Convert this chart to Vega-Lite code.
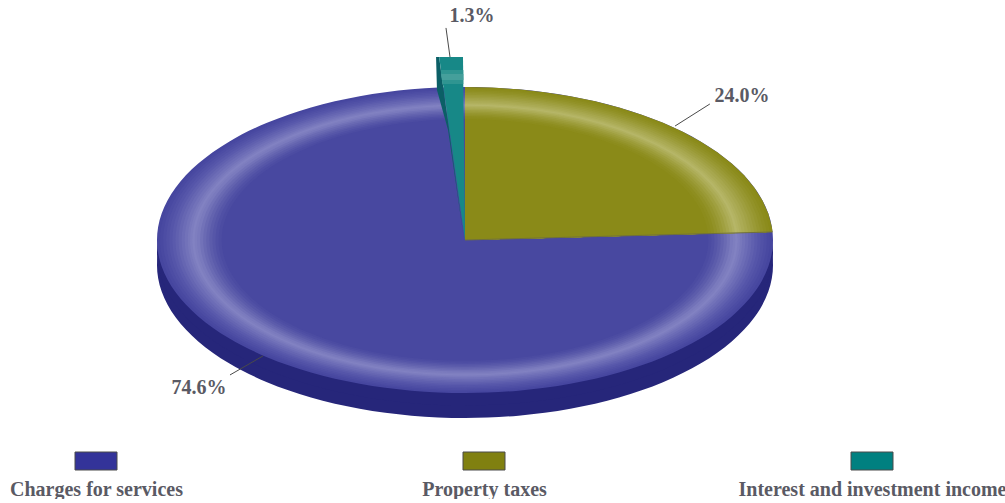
{"$schema":"https://vega.github.io/schema/vega-lite/v6.json","padding":0,"background":"#ffffff","spacing":9,"config":{"view":{"stroke":null}},
"datasets":{
"ring":[{"k":0,"u":0,"v":1},{"k":1,"u":0.1736,"v":0.9848},{"k":2,"u":0.342,"v":0.9397},{"k":3,"u":0.5,"v":0.866},{"k":4,"u":0.6428,"v":0.766},{"k":5,"u":0.766,"v":0.6428},{"k":6,"u":0.866,"v":0.5},{"k":7,"u":0.9397,"v":0.342},{"k":8,"u":0.9848,"v":0.1736},{"k":9,"u":1,"v":0},{"k":10,"u":0.9848,"v":-0.1736},{"k":11,"u":0.9397,"v":-0.342},{"k":12,"u":0.866,"v":-0.5},{"k":13,"u":0.766,"v":-0.6428},{"k":14,"u":0.6428,"v":-0.766},{"k":15,"u":0.5,"v":-0.866},{"k":16,"u":0.342,"v":-0.9397},{"k":17,"u":0.1736,"v":-0.9848},{"k":18,"u":0,"v":-1},{"k":19,"u":-0.1736,"v":-0.9848},{"k":20,"u":-0.342,"v":-0.9397},{"k":21,"u":-0.5,"v":-0.866},{"k":22,"u":-0.6428,"v":-0.766},{"k":23,"u":-0.766,"v":-0.6428},{"k":24,"u":-0.866,"v":-0.5},{"k":25,"u":-0.9397,"v":-0.342},{"k":26,"u":-0.9848,"v":-0.1736},{"k":27,"u":-1,"v":0},{"k":28,"u":-0.9848,"v":0.1736},{"k":29,"u":-0.9397,"v":0.342},{"k":30,"u":-0.866,"v":0.5},{"k":31,"u":-0.766,"v":0.6428},{"k":32,"u":-0.6428,"v":0.766},{"k":33,"u":-0.5,"v":0.866},{"k":34,"u":-0.342,"v":0.9397},{"k":35,"u":-0.1736,"v":0.9848}],
"sector":[{"k":0,"u":0,"v":0},{"k":1,"u":0,"v":1},{"k":2,"u":0.0872,"v":0.9962},{"k":3,"u":0.1736,"v":0.9848},{"k":4,"u":0.2588,"v":0.9659},{"k":5,"u":0.342,"v":0.9397},{"k":6,"u":0.4226,"v":0.9063},{"k":7,"u":0.5,"v":0.866},{"k":8,"u":0.5736,"v":0.8192},{"k":9,"u":0.6428,"v":0.766},{"k":10,"u":0.7071,"v":0.7071},{"k":11,"u":0.766,"v":0.6428},{"k":12,"u":0.8192,"v":0.5736},{"k":13,"u":0.866,"v":0.5},{"k":14,"u":0.9063,"v":0.4226},{"k":15,"u":0.9397,"v":0.342},{"k":16,"u":0.9659,"v":0.2588},{"k":17,"u":0.9848,"v":0.1736},{"k":18,"u":0.9962,"v":0.0872},{"k":19,"u":0.9986,"v":0.0523}],
"tealWall":[{"k":0,"u":-0.094,"v":1.196},{"k":1,"u":-0.084,"v":1.196},{"k":2,"u":-0.003,"v":0},{"k":3,"u":-0.055,"v":0.719},{"k":4,"u":-0.091,"v":0.98}],
"tealFace":[{"k":0,"u":-0.084,"v":1.196},{"k":1,"u":-0.0065,"v":1.196},{"k":2,"u":0,"v":0}],
"tealBand":[{"k":0,"u":-0.079,"v":1.111},{"k":1,"u":-0.0055,"v":1.111},{"k":2,"u":-0.0055,"v":1.02},{"k":3,"u":-0.073,"v":1.02}],
"tealGlow":[{"k":0,"u":-0.077,"v":1.085},{"k":1,"u":-0.0055,"v":1.085},{"k":2,"u":-0.0055,"v":1.046},{"k":3,"u":-0.075,"v":1.046}],
"seam":[{"a":0,"b":0,"a2":0.9986,"b2":0.0523}],
"slices":[{"slice":"Charges for services","share":74.6,"label":"74.6%","lu":-0.864,"lv":-0.967,"a":-0.656,"b":-0.758,"a2":-0.763,"b2":-0.882},{"slice":"Property taxes","share":24.0,"label":"24.0%","lu":0.899,"lv":0.941,"a":0.682,"b":0.745,"a2":0.795,"b2":0.889},{"slice":"Interest and investment income","share":1.3,"label":"1.3%","lu":0.0227,"lv":1.464,"a":-0.0487,"b":1.196,"a2":-0.0617,"b2":1.386}]
},
"vconcat":[
{"width":1005,"height":442,"resolve":{"scale":{"x":"independent","y":"independent"}},"layer":[
{"data":{"name":"ring"},"mark":{"type":"line","interpolate":"cardinal-closed","fill":"#26267a","strokeWidth":0},"encoding":{"x":{"field":"u","type":"quantitative","axis":null,"scale":{"domain":[-1.5097,1.7532],"nice":false,"zero":false}},"y":{"field":"v","type":"quantitative","axis":null,"scale":{"domain":[-1.1569,1.732],"nice":false,"zero":false}},"order":{"field":"k"}}},
{"data":{"name":"ring"},"mark":{"type":"line","interpolate":"cardinal-closed","fill":"#26267a","strokeWidth":0},"encoding":{"x":{"field":"u","type":"quantitative","axis":null,"scale":{"domain":[-1.5097,1.7532],"nice":false,"zero":false}},"y":{"field":"v","type":"quantitative","axis":null,"scale":{"domain":[-1.2386,1.6503],"nice":false,"zero":false}},"order":{"field":"k"}}},
{"data":{"name":"ring"},"mark":{"type":"line","interpolate":"cardinal-closed","fill":"#46469f","strokeWidth":0},"encoding":{"x":{"field":"u","type":"quantitative","axis":null,"scale":{"domain":[-1.5097,1.7532],"nice":false,"zero":false}},"y":{"field":"v","type":"quantitative","axis":null,"scale":{"domain":[-1.3203,1.5686],"nice":false,"zero":false}},"order":{"field":"k"}}},
{"data":{"name":"ring"},"mark":{"type":"line","interpolate":"cardinal-closed","fill":"#4949a1","strokeWidth":0},"encoding":{"x":{"field":"u","type":"quantitative","axis":null,"scale":{"domain":[-1.525,1.7709],"nice":false,"zero":false}},"y":{"field":"v","type":"quantitative","axis":null,"scale":{"domain":[-1.3336,1.5844],"nice":false,"zero":false}},"order":{"field":"k"}}},
{"data":{"name":"ring"},"mark":{"type":"line","interpolate":"cardinal-closed","fill":"#4d4da4","strokeWidth":0},"encoding":{"x":{"field":"u","type":"quantitative","axis":null,"scale":{"domain":[-1.5405,1.789],"nice":false,"zero":false}},"y":{"field":"v","type":"quantitative","axis":null,"scale":{"domain":[-1.3472,1.6006],"nice":false,"zero":false}},"order":{"field":"k"}}},
{"data":{"name":"ring"},"mark":{"type":"line","interpolate":"cardinal-closed","fill":"#5151a6","strokeWidth":0},"encoding":{"x":{"field":"u","type":"quantitative","axis":null,"scale":{"domain":[-1.5564,1.8074],"nice":false,"zero":false}},"y":{"field":"v","type":"quantitative","axis":null,"scale":{"domain":[-1.3611,1.6171],"nice":false,"zero":false}},"order":{"field":"k"}}},
{"data":{"name":"ring"},"mark":{"type":"line","interpolate":"cardinal-closed","fill":"#5555a9","strokeWidth":0},"encoding":{"x":{"field":"u","type":"quantitative","axis":null,"scale":{"domain":[-1.5726,1.8263],"nice":false,"zero":false}},"y":{"field":"v","type":"quantitative","axis":null,"scale":{"domain":[-1.3753,1.634],"nice":false,"zero":false}},"order":{"field":"k"}}},
{"data":{"name":"ring"},"mark":{"type":"line","interpolate":"cardinal-closed","fill":"#5a5aac","strokeWidth":0},"encoding":{"x":{"field":"u","type":"quantitative","axis":null,"scale":{"domain":[-1.5892,1.8455],"nice":false,"zero":false}},"y":{"field":"v","type":"quantitative","axis":null,"scale":{"domain":[-1.3898,1.6512],"nice":false,"zero":false}},"order":{"field":"k"}}},
{"data":{"name":"ring"},"mark":{"type":"line","interpolate":"cardinal-closed","fill":"#6060af","strokeWidth":0},"encoding":{"x":{"field":"u","type":"quantitative","axis":null,"scale":{"domain":[-1.6061,1.8651],"nice":false,"zero":false}},"y":{"field":"v","type":"quantitative","axis":null,"scale":{"domain":[-1.4046,1.6687],"nice":false,"zero":false}},"order":{"field":"k"}}},
{"data":{"name":"ring"},"mark":{"type":"line","interpolate":"cardinal-closed","fill":"#6666b2","strokeWidth":0},"encoding":{"x":{"field":"u","type":"quantitative","axis":null,"scale":{"domain":[-1.6233,1.8852],"nice":false,"zero":false}},"y":{"field":"v","type":"quantitative","axis":null,"scale":{"domain":[-1.4197,1.6867],"nice":false,"zero":false}},"order":{"field":"k"}}},
{"data":{"name":"ring"},"mark":{"type":"line","interpolate":"cardinal-closed","fill":"#6c6cb6","strokeWidth":0},"encoding":{"x":{"field":"u","type":"quantitative","axis":null,"scale":{"domain":[-1.641,1.9057],"nice":false,"zero":false}},"y":{"field":"v","type":"quantitative","axis":null,"scale":{"domain":[-1.4351,1.705],"nice":false,"zero":false}},"order":{"field":"k"}}},
{"data":{"name":"ring"},"mark":{"type":"line","interpolate":"cardinal-closed","fill":"#7272b9","strokeWidth":0},"encoding":{"x":{"field":"u","type":"quantitative","axis":null,"scale":{"domain":[-1.659,1.9266],"nice":false,"zero":false}},"y":{"field":"v","type":"quantitative","axis":null,"scale":{"domain":[-1.4509,1.7237],"nice":false,"zero":false}},"order":{"field":"k"}}},
{"data":{"name":"ring"},"mark":{"type":"line","interpolate":"cardinal-closed","fill":"#7878bc","strokeWidth":0},"encoding":{"x":{"field":"u","type":"quantitative","axis":null,"scale":{"domain":[-1.6774,1.948],"nice":false,"zero":false}},"y":{"field":"v","type":"quantitative","axis":null,"scale":{"domain":[-1.467,1.7429],"nice":false,"zero":false}},"order":{"field":"k"}}},
{"data":{"name":"ring"},"mark":{"type":"line","interpolate":"cardinal-closed","fill":"#7d7dbf","strokeWidth":0},"encoding":{"x":{"field":"u","type":"quantitative","axis":null,"scale":{"domain":[-1.6915,1.9644],"nice":false,"zero":false}},"y":{"field":"v","type":"quantitative","axis":null,"scale":{"domain":[-1.4793,1.7575],"nice":false,"zero":false}},"order":{"field":"k"}}},
{"data":{"name":"ring"},"mark":{"type":"line","interpolate":"cardinal-closed","fill":"#8282c2","strokeWidth":0},"encoding":{"x":{"field":"u","type":"quantitative","axis":null,"scale":{"domain":[-1.7059,1.981],"nice":false,"zero":false}},"y":{"field":"v","type":"quantitative","axis":null,"scale":{"domain":[-1.4919,1.7724],"nice":false,"zero":false}},"order":{"field":"k"}}},
{"data":{"name":"ring"},"mark":{"type":"line","interpolate":"cardinal-closed","fill":"#7e7ebf","strokeWidth":0},"encoding":{"x":{"field":"u","type":"quantitative","axis":null,"scale":{"domain":[-1.7205,1.9979],"nice":false,"zero":false}},"y":{"field":"v","type":"quantitative","axis":null,"scale":{"domain":[-1.5046,1.7876],"nice":false,"zero":false}},"order":{"field":"k"}}},
{"data":{"name":"ring"},"mark":{"type":"line","interpolate":"cardinal-closed","fill":"#7a7abd","strokeWidth":0},"encoding":{"x":{"field":"u","type":"quantitative","axis":null,"scale":{"domain":[-1.7353,2.0152],"nice":false,"zero":false}},"y":{"field":"v","type":"quantitative","axis":null,"scale":{"domain":[-1.5176,1.803],"nice":false,"zero":false}},"order":{"field":"k"}}},
{"data":{"name":"ring"},"mark":{"type":"line","interpolate":"cardinal-closed","fill":"#7272b8","strokeWidth":0},"encoding":{"x":{"field":"u","type":"quantitative","axis":null,"scale":{"domain":[-1.7555,2.0386],"nice":false,"zero":false}},"y":{"field":"v","type":"quantitative","axis":null,"scale":{"domain":[-1.5352,1.824],"nice":false,"zero":false}},"order":{"field":"k"}}},
{"data":{"name":"ring"},"mark":{"type":"line","interpolate":"cardinal-closed","fill":"#6a6ab3","strokeWidth":0},"encoding":{"x":{"field":"u","type":"quantitative","axis":null,"scale":{"domain":[-1.7761,2.0626],"nice":false,"zero":false}},"y":{"field":"v","type":"quantitative","axis":null,"scale":{"domain":[-1.5533,1.8454],"nice":false,"zero":false}},"order":{"field":"k"}}},
{"data":{"name":"ring"},"mark":{"type":"line","interpolate":"cardinal-closed","fill":"#6363af","strokeWidth":0},"encoding":{"x":{"field":"u","type":"quantitative","axis":null,"scale":{"domain":[-1.7973,2.0871],"nice":false,"zero":false}},"y":{"field":"v","type":"quantitative","axis":null,"scale":{"domain":[-1.5718,1.8674],"nice":false,"zero":false}},"order":{"field":"k"}}},
{"data":{"name":"ring"},"mark":{"type":"line","interpolate":"cardinal-closed","fill":"#5c5cab","strokeWidth":0},"encoding":{"x":{"field":"u","type":"quantitative","axis":null,"scale":{"domain":[-1.8189,2.1123],"nice":false,"zero":false}},"y":{"field":"v","type":"quantitative","axis":null,"scale":{"domain":[-1.5907,1.8899],"nice":false,"zero":false}},"order":{"field":"k"}}},
{"data":{"name":"ring"},"mark":{"type":"line","interpolate":"cardinal-closed","fill":"#5656a8","strokeWidth":0},"encoding":{"x":{"field":"u","type":"quantitative","axis":null,"scale":{"domain":[-1.8411,2.138],"nice":false,"zero":false}},"y":{"field":"v","type":"quantitative","axis":null,"scale":{"domain":[-1.6101,1.9129],"nice":false,"zero":false}},"order":{"field":"k"}}},
{"data":{"name":"ring"},"mark":{"type":"line","interpolate":"cardinal-closed","fill":"#5050a5","strokeWidth":0},"encoding":{"x":{"field":"u","type":"quantitative","axis":null,"scale":{"domain":[-1.8638,2.1644],"nice":false,"zero":false}},"y":{"field":"v","type":"quantitative","axis":null,"scale":{"domain":[-1.63,1.9365],"nice":false,"zero":false}},"order":{"field":"k"}}},
{"data":{"name":"ring"},"mark":{"type":"line","interpolate":"cardinal-closed","fill":"#4c4ca2","strokeWidth":0},"encoding":{"x":{"field":"u","type":"quantitative","axis":null,"scale":{"domain":[-1.8871,2.1915],"nice":false,"zero":false}},"y":{"field":"v","type":"quantitative","axis":null,"scale":{"domain":[-1.6504,1.9608],"nice":false,"zero":false}},"order":{"field":"k"}}},
{"data":{"name":"ring"},"mark":{"type":"line","interpolate":"cardinal-closed","fill":"#4848a0","strokeWidth":0},"encoding":{"x":{"field":"u","type":"quantitative","axis":null,"scale":{"domain":[-1.911,2.2192],"nice":false,"zero":false}},"y":{"field":"v","type":"quantitative","axis":null,"scale":{"domain":[-1.6713,1.9855],"nice":false,"zero":false}},"order":{"field":"k"}}},
{"data":{"name":"sector"},"mark":{"type":"line","interpolate":"linear-closed","fill":"#8a8a18","strokeWidth":0},"encoding":{"x":{"field":"u","type":"quantitative","axis":null,"scale":{"domain":[-1.5097,1.7532],"nice":false,"zero":false}},"y":{"field":"v","type":"quantitative","axis":null,"scale":{"domain":[-1.3203,1.5686],"nice":false,"zero":false}},"order":{"field":"k"}}},
{"data":{"name":"sector"},"mark":{"type":"line","interpolate":"linear-closed","fill":"#8c8c1d","strokeWidth":0},"encoding":{"x":{"field":"u","type":"quantitative","axis":null,"scale":{"domain":[-1.525,1.7709],"nice":false,"zero":false}},"y":{"field":"v","type":"quantitative","axis":null,"scale":{"domain":[-1.3336,1.5844],"nice":false,"zero":false}},"order":{"field":"k"}}},
{"data":{"name":"sector"},"mark":{"type":"line","interpolate":"linear-closed","fill":"#8f8f22","strokeWidth":0},"encoding":{"x":{"field":"u","type":"quantitative","axis":null,"scale":{"domain":[-1.5405,1.789],"nice":false,"zero":false}},"y":{"field":"v","type":"quantitative","axis":null,"scale":{"domain":[-1.3472,1.6006],"nice":false,"zero":false}},"order":{"field":"k"}}},
{"data":{"name":"sector"},"mark":{"type":"line","interpolate":"linear-closed","fill":"#929228","strokeWidth":0},"encoding":{"x":{"field":"u","type":"quantitative","axis":null,"scale":{"domain":[-1.5564,1.8074],"nice":false,"zero":false}},"y":{"field":"v","type":"quantitative","axis":null,"scale":{"domain":[-1.3611,1.6171],"nice":false,"zero":false}},"order":{"field":"k"}}},
{"data":{"name":"sector"},"mark":{"type":"line","interpolate":"linear-closed","fill":"#96962f","strokeWidth":0},"encoding":{"x":{"field":"u","type":"quantitative","axis":null,"scale":{"domain":[-1.5726,1.8263],"nice":false,"zero":false}},"y":{"field":"v","type":"quantitative","axis":null,"scale":{"domain":[-1.3753,1.634],"nice":false,"zero":false}},"order":{"field":"k"}}},
{"data":{"name":"sector"},"mark":{"type":"line","interpolate":"linear-closed","fill":"#9a9a36","strokeWidth":0},"encoding":{"x":{"field":"u","type":"quantitative","axis":null,"scale":{"domain":[-1.5892,1.8455],"nice":false,"zero":false}},"y":{"field":"v","type":"quantitative","axis":null,"scale":{"domain":[-1.3898,1.6512],"nice":false,"zero":false}},"order":{"field":"k"}}},
{"data":{"name":"sector"},"mark":{"type":"line","interpolate":"linear-closed","fill":"#9e9e3e","strokeWidth":0},"encoding":{"x":{"field":"u","type":"quantitative","axis":null,"scale":{"domain":[-1.6061,1.8651],"nice":false,"zero":false}},"y":{"field":"v","type":"quantitative","axis":null,"scale":{"domain":[-1.4046,1.6687],"nice":false,"zero":false}},"order":{"field":"k"}}},
{"data":{"name":"sector"},"mark":{"type":"line","interpolate":"linear-closed","fill":"#a2a246","strokeWidth":0},"encoding":{"x":{"field":"u","type":"quantitative","axis":null,"scale":{"domain":[-1.6233,1.8852],"nice":false,"zero":false}},"y":{"field":"v","type":"quantitative","axis":null,"scale":{"domain":[-1.4197,1.6867],"nice":false,"zero":false}},"order":{"field":"k"}}},
{"data":{"name":"sector"},"mark":{"type":"line","interpolate":"linear-closed","fill":"#a7a74e","strokeWidth":0},"encoding":{"x":{"field":"u","type":"quantitative","axis":null,"scale":{"domain":[-1.641,1.9057],"nice":false,"zero":false}},"y":{"field":"v","type":"quantitative","axis":null,"scale":{"domain":[-1.4351,1.705],"nice":false,"zero":false}},"order":{"field":"k"}}},
{"data":{"name":"sector"},"mark":{"type":"line","interpolate":"linear-closed","fill":"#abab55","strokeWidth":0},"encoding":{"x":{"field":"u","type":"quantitative","axis":null,"scale":{"domain":[-1.659,1.9266],"nice":false,"zero":false}},"y":{"field":"v","type":"quantitative","axis":null,"scale":{"domain":[-1.4509,1.7237],"nice":false,"zero":false}},"order":{"field":"k"}}},
{"data":{"name":"sector"},"mark":{"type":"line","interpolate":"linear-closed","fill":"#afaf5c","strokeWidth":0},"encoding":{"x":{"field":"u","type":"quantitative","axis":null,"scale":{"domain":[-1.6774,1.948],"nice":false,"zero":false}},"y":{"field":"v","type":"quantitative","axis":null,"scale":{"domain":[-1.467,1.7429],"nice":false,"zero":false}},"order":{"field":"k"}}},
{"data":{"name":"sector"},"mark":{"type":"line","interpolate":"linear-closed","fill":"#b3b362","strokeWidth":0},"encoding":{"x":{"field":"u","type":"quantitative","axis":null,"scale":{"domain":[-1.6915,1.9644],"nice":false,"zero":false}},"y":{"field":"v","type":"quantitative","axis":null,"scale":{"domain":[-1.4793,1.7575],"nice":false,"zero":false}},"order":{"field":"k"}}},
{"data":{"name":"sector"},"mark":{"type":"line","interpolate":"linear-closed","fill":"#b6b668","strokeWidth":0},"encoding":{"x":{"field":"u","type":"quantitative","axis":null,"scale":{"domain":[-1.7059,1.981],"nice":false,"zero":false}},"y":{"field":"v","type":"quantitative","axis":null,"scale":{"domain":[-1.4919,1.7724],"nice":false,"zero":false}},"order":{"field":"k"}}},
{"data":{"name":"sector"},"mark":{"type":"line","interpolate":"linear-closed","fill":"#b1b15f","strokeWidth":0},"encoding":{"x":{"field":"u","type":"quantitative","axis":null,"scale":{"domain":[-1.7205,1.9979],"nice":false,"zero":false}},"y":{"field":"v","type":"quantitative","axis":null,"scale":{"domain":[-1.5046,1.7876],"nice":false,"zero":false}},"order":{"field":"k"}}},
{"data":{"name":"sector"},"mark":{"type":"line","interpolate":"linear-closed","fill":"#acac56","strokeWidth":0},"encoding":{"x":{"field":"u","type":"quantitative","axis":null,"scale":{"domain":[-1.7353,2.0152],"nice":false,"zero":false}},"y":{"field":"v","type":"quantitative","axis":null,"scale":{"domain":[-1.5176,1.803],"nice":false,"zero":false}},"order":{"field":"k"}}},
{"data":{"name":"sector"},"mark":{"type":"line","interpolate":"linear-closed","fill":"#a6a64b","strokeWidth":0},"encoding":{"x":{"field":"u","type":"quantitative","axis":null,"scale":{"domain":[-1.7555,2.0386],"nice":false,"zero":false}},"y":{"field":"v","type":"quantitative","axis":null,"scale":{"domain":[-1.5352,1.824],"nice":false,"zero":false}},"order":{"field":"k"}}},
{"data":{"name":"sector"},"mark":{"type":"line","interpolate":"linear-closed","fill":"#a0a040","strokeWidth":0},"encoding":{"x":{"field":"u","type":"quantitative","axis":null,"scale":{"domain":[-1.7761,2.0626],"nice":false,"zero":false}},"y":{"field":"v","type":"quantitative","axis":null,"scale":{"domain":[-1.5533,1.8454],"nice":false,"zero":false}},"order":{"field":"k"}}},
{"data":{"name":"sector"},"mark":{"type":"line","interpolate":"linear-closed","fill":"#9b9b37","strokeWidth":0},"encoding":{"x":{"field":"u","type":"quantitative","axis":null,"scale":{"domain":[-1.7973,2.0871],"nice":false,"zero":false}},"y":{"field":"v","type":"quantitative","axis":null,"scale":{"domain":[-1.5718,1.8674],"nice":false,"zero":false}},"order":{"field":"k"}}},
{"data":{"name":"sector"},"mark":{"type":"line","interpolate":"linear-closed","fill":"#96962f","strokeWidth":0},"encoding":{"x":{"field":"u","type":"quantitative","axis":null,"scale":{"domain":[-1.8189,2.1123],"nice":false,"zero":false}},"y":{"field":"v","type":"quantitative","axis":null,"scale":{"domain":[-1.5907,1.8899],"nice":false,"zero":false}},"order":{"field":"k"}}},
{"data":{"name":"sector"},"mark":{"type":"line","interpolate":"linear-closed","fill":"#929227","strokeWidth":0},"encoding":{"x":{"field":"u","type":"quantitative","axis":null,"scale":{"domain":[-1.8411,2.138],"nice":false,"zero":false}},"y":{"field":"v","type":"quantitative","axis":null,"scale":{"domain":[-1.6101,1.9129],"nice":false,"zero":false}},"order":{"field":"k"}}},
{"data":{"name":"sector"},"mark":{"type":"line","interpolate":"linear-closed","fill":"#8e8e20","strokeWidth":0},"encoding":{"x":{"field":"u","type":"quantitative","axis":null,"scale":{"domain":[-1.8638,2.1644],"nice":false,"zero":false}},"y":{"field":"v","type":"quantitative","axis":null,"scale":{"domain":[-1.63,1.9365],"nice":false,"zero":false}},"order":{"field":"k"}}},
{"data":{"name":"sector"},"mark":{"type":"line","interpolate":"linear-closed","fill":"#8c8c1c","strokeWidth":0},"encoding":{"x":{"field":"u","type":"quantitative","axis":null,"scale":{"domain":[-1.8871,2.1915],"nice":false,"zero":false}},"y":{"field":"v","type":"quantitative","axis":null,"scale":{"domain":[-1.6504,1.9608],"nice":false,"zero":false}},"order":{"field":"k"}}},
{"data":{"name":"sector"},"mark":{"type":"line","interpolate":"linear-closed","fill":"#8a8a18","strokeWidth":0},"encoding":{"x":{"field":"u","type":"quantitative","axis":null,"scale":{"domain":[-1.911,2.2192],"nice":false,"zero":false}},"y":{"field":"v","type":"quantitative","axis":null,"scale":{"domain":[-1.6713,1.9855],"nice":false,"zero":false}},"order":{"field":"k"}}},
{"data":{"name":"seam"},"mark":{"type":"rule","color":"#6e6e40","strokeWidth":1},"encoding":{"x":{"field":"a","type":"quantitative","axis":null,"scale":{"domain":[-1.5097,1.7532],"nice":false,"zero":false}},"y":{"field":"b","type":"quantitative","axis":null,"scale":{"domain":[-1.3203,1.5686],"nice":false,"zero":false}},"x2":{"field":"a2"},"y2":{"field":"b2"}}},
{"data":{"name":"tealWall"},"mark":{"type":"line","interpolate":"linear-closed","fill":"#0b5f66","strokeWidth":0},"encoding":{"x":{"field":"u","type":"quantitative","axis":null,"scale":{"domain":[-1.5097,1.7532],"nice":false,"zero":false}},"y":{"field":"v","type":"quantitative","axis":null,"scale":{"domain":[-1.3203,1.5686],"nice":false,"zero":false}},"order":{"field":"k"}}},
{"data":{"name":"tealFace"},"mark":{"type":"line","interpolate":"linear-closed","fill":"#178887","strokeWidth":0},"encoding":{"x":{"field":"u","type":"quantitative","axis":null,"scale":{"domain":[-1.5097,1.7532],"nice":false,"zero":false}},"y":{"field":"v","type":"quantitative","axis":null,"scale":{"domain":[-1.3203,1.5686],"nice":false,"zero":false}},"order":{"field":"k"}}},
{"data":{"name":"tealBand"},"mark":{"type":"line","interpolate":"linear-closed","fill":"#2f9591","strokeWidth":0},"encoding":{"x":{"field":"u","type":"quantitative","axis":null,"scale":{"domain":[-1.5097,1.7532],"nice":false,"zero":false}},"y":{"field":"v","type":"quantitative","axis":null,"scale":{"domain":[-1.3203,1.5686],"nice":false,"zero":false}},"order":{"field":"k"}}},
{"data":{"name":"tealGlow"},"mark":{"type":"line","interpolate":"linear-closed","fill":"#459f9b","strokeWidth":0},"encoding":{"x":{"field":"u","type":"quantitative","axis":null,"scale":{"domain":[-1.5097,1.7532],"nice":false,"zero":false}},"y":{"field":"v","type":"quantitative","axis":null,"scale":{"domain":[-1.3203,1.5686],"nice":false,"zero":false}},"order":{"field":"k"}}},
{"data":{"name":"slices"},"mark":{"type":"rule","color":"#4a4a4a","strokeWidth":1},"encoding":{"x":{"field":"a","type":"quantitative","axis":null,"scale":{"domain":[-1.5097,1.7532],"nice":false,"zero":false}},"y":{"field":"b","type":"quantitative","axis":null,"scale":{"domain":[-1.3203,1.5686],"nice":false,"zero":false}},"x2":{"field":"a2"},"y2":{"field":"b2"}}},
{"data":{"name":"slices"},"mark":{"type":"text","font":"Liberation Serif","fontWeight":"bold","fontSize":20,"color":"#5a5a64"},"encoding":{"x":{"field":"lu","type":"quantitative","axis":null,"scale":{"domain":[-1.5097,1.7532],"nice":false,"zero":false}},"y":{"field":"lv","type":"quantitative","axis":null,"scale":{"domain":[-1.3203,1.5686],"nice":false,"zero":false}},"text":{"field":"label"}}}
]},
{"width":1005,"height":22,"data":{"name":"slices"},"mark":{"type":"rect","width":42,"height":18,"stroke":"#4a4a4a","strokeWidth":1},"encoding":{"x":{"field":"slice","type":"nominal","sort":null,"scale":{"type":"point","padding":0,"range":[96,872]},"axis":{"title":null,"domain":false,"ticks":false,"labelAngle":0,"labelFont":"Liberation Serif","labelFontWeight":"bold","labelFontSize":20,"labelColor":"#5a5a64","labelPadding":-4,"labelLimit":400,"labelOverlap":false}},"color":{"field":"slice","type":"nominal","sort":null,"legend":null,"scale":{"range":["#333399","#808010","#008080"]}}}}
]}
